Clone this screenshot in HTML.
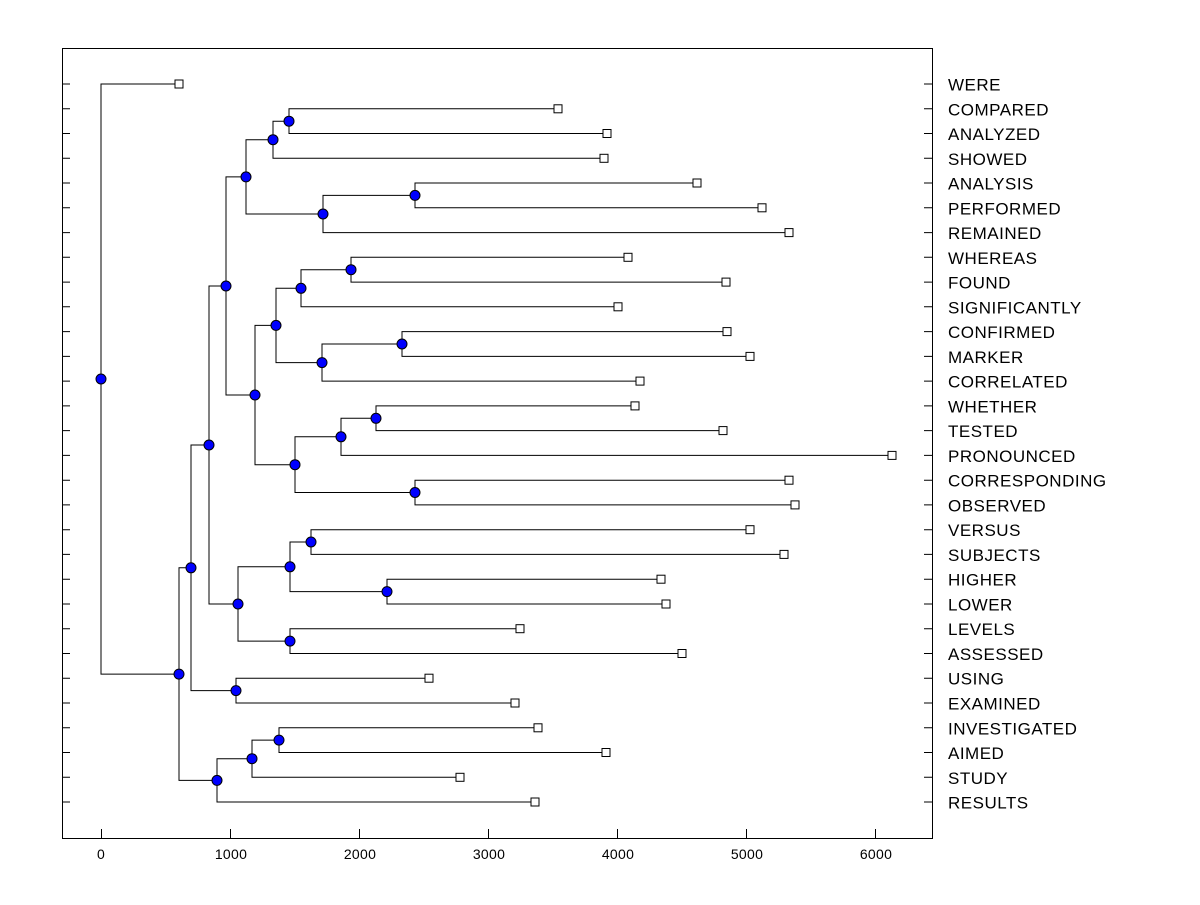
<!DOCTYPE html>
<html><head><meta charset="utf-8"><style>
html,body{margin:0;padding:0;background:#fff;}
svg text{font-family:"Liberation Sans",Arial,sans-serif;}
</style></head><body>
<svg width="1200" height="900" viewBox="0 0 1200 900" xmlns="http://www.w3.org/2000/svg">
<rect x="0" y="0" width="1200" height="900" fill="#fff"/>
<rect x="62.5" y="48.5" width="870" height="790" fill="none" stroke="#000" stroke-width="1"/>
<g stroke="#000" stroke-width="1" fill="none">
<path d="M62 84H70M62 108.8H70M62 133.5H70M62 158.3H70M62 183H70M62 207.8H70M62 232.6H70M62 257.3H70M62 282.1H70M62 306.8H70M62 331.6H70M62 356.4H70M62 381.1H70M62 405.9H70M62 430.6H70M62 455.4H70M62 480.2H70M62 504.9H70M62 529.7H70M62 554.4H70M62 579.2H70M62 604H70M62 628.7H70M62 653.5H70M62 678.2H70M62 703H70M62 727.8H70M62 752.5H70M62 777.3H70M62 802H70"/>
<path d="M924 84H932M924 108.8H932M924 133.5H932M924 158.3H932M924 183H932M924 207.8H932M924 232.6H932M924 257.3H932M924 282.1H932M924 306.8H932M924 331.6H932M924 356.4H932M924 381.1H932M924 405.9H932M924 430.6H932M924 455.4H932M924 480.2H932M924 504.9H932M924 529.7H932M924 554.4H932M924 579.2H932M924 604H932M924 628.7H932M924 653.5H932M924 678.2H932M924 703H932M924 727.8H932M924 752.5H932M924 777.3H932M924 802H932"/>
<path d="M101.5 838V829M230.5 838V829M359.5 838V829M488.5 838V829M617.5 838V829M746.5 838V829M875.5 838V829"/>
<path d="
M558 108.8H289V133.5H607
M289 121.2H273V158.3H604
M697 183H415V207.8H762
M415 195.4H323V232.6H789
M273 139.7H246V214H323
M628 257.3H351V282.1H726
M351 269.7H301V306.8H618
M727 331.6H402V356.4H750
M402 344H322V381.1H640
M301 288.3H276V362.6H322
M635 405.9H376V430.6H723
M376 418.3H341V455.4H892
M789 480.2H415V504.9H795
M341 436.8H295V492.5H415
M276 325.4H255V464.7H295
M246 176.9H226V395H255
M750 529.7H311V554.4H784
M661 579.2H387V604H666
M311 542H290V591.6H387
M520 628.7H290V653.5H682
M290 566.8H238V641.1H290
M226 286H209V604H238
M429 678.2H236V703H515
M209 445H191V690.6H236
M538 727.8H279V752.5H606
M279 740.1H252V777.3H460
M252 758.7H217V802H535
M191 567.8H179V780.4H217
M179 84H101V674.1H179
"/>
</g>
<g fill="#fff" stroke="#000" stroke-width="1">
<rect x="175" y="80" width="8" height="8"/>
<rect x="554" y="104.8" width="8" height="8"/>
<rect x="603" y="129.5" width="8" height="8"/>
<rect x="600" y="154.3" width="8" height="8"/>
<rect x="693" y="179" width="8" height="8"/>
<rect x="758" y="203.8" width="8" height="8"/>
<rect x="785" y="228.6" width="8" height="8"/>
<rect x="624" y="253.3" width="8" height="8"/>
<rect x="722" y="278.1" width="8" height="8"/>
<rect x="614" y="302.8" width="8" height="8"/>
<rect x="723" y="327.6" width="8" height="8"/>
<rect x="746" y="352.4" width="8" height="8"/>
<rect x="636" y="377.1" width="8" height="8"/>
<rect x="631" y="401.9" width="8" height="8"/>
<rect x="719" y="426.6" width="8" height="8"/>
<rect x="888" y="451.4" width="8" height="8"/>
<rect x="785" y="476.2" width="8" height="8"/>
<rect x="791" y="500.9" width="8" height="8"/>
<rect x="746" y="525.7" width="8" height="8"/>
<rect x="780" y="550.4" width="8" height="8"/>
<rect x="657" y="575.2" width="8" height="8"/>
<rect x="662" y="600" width="8" height="8"/>
<rect x="516" y="624.7" width="8" height="8"/>
<rect x="678" y="649.5" width="8" height="8"/>
<rect x="425" y="674.2" width="8" height="8"/>
<rect x="511" y="699" width="8" height="8"/>
<rect x="534" y="723.8" width="8" height="8"/>
<rect x="602" y="748.5" width="8" height="8"/>
<rect x="456" y="773.3" width="8" height="8"/>
<rect x="531" y="798" width="8" height="8"/>
</g>
<g fill="#0000ff" stroke="#000" stroke-width="1">
<circle cx="289" cy="121.2" r="5"/>
<circle cx="273" cy="139.7" r="5"/>
<circle cx="415" cy="195.4" r="5"/>
<circle cx="323" cy="214" r="5"/>
<circle cx="246" cy="176.9" r="5"/>
<circle cx="351" cy="269.7" r="5"/>
<circle cx="301" cy="288.3" r="5"/>
<circle cx="402" cy="344" r="5"/>
<circle cx="322" cy="362.6" r="5"/>
<circle cx="276" cy="325.4" r="5"/>
<circle cx="376" cy="418.3" r="5"/>
<circle cx="341" cy="436.8" r="5"/>
<circle cx="415" cy="492.5" r="5"/>
<circle cx="295" cy="464.7" r="5"/>
<circle cx="255" cy="395" r="5"/>
<circle cx="226" cy="286" r="5"/>
<circle cx="311" cy="542" r="5"/>
<circle cx="387" cy="591.6" r="5"/>
<circle cx="290" cy="566.8" r="5"/>
<circle cx="290" cy="641.1" r="5"/>
<circle cx="238" cy="604" r="5"/>
<circle cx="209" cy="445" r="5"/>
<circle cx="236" cy="690.6" r="5"/>
<circle cx="191" cy="567.8" r="5"/>
<circle cx="279" cy="740.1" r="5"/>
<circle cx="252" cy="758.7" r="5"/>
<circle cx="217" cy="780.4" r="5"/>
<circle cx="179" cy="674.1" r="5"/>
<circle cx="101" cy="379" r="5"/>
</g>
<g font-size="17" letter-spacing="0.5" fill="#000" dominant-baseline="central" transform="translate(0,1)">
<text x="948" y="84">WERE</text>
<text x="948" y="108.8">COMPARED</text>
<text x="948" y="133.5">ANALYZED</text>
<text x="948" y="158.3">SHOWED</text>
<text x="948" y="183">ANALYSIS</text>
<text x="948" y="207.8">PERFORMED</text>
<text x="948" y="232.6">REMAINED</text>
<text x="948" y="257.3">WHEREAS</text>
<text x="948" y="282.1">FOUND</text>
<text x="948" y="306.8">SIGNIFICANTLY</text>
<text x="948" y="331.6">CONFIRMED</text>
<text x="948" y="356.4">MARKER</text>
<text x="948" y="381.1">CORRELATED</text>
<text x="948" y="405.9">WHETHER</text>
<text x="948" y="430.6">TESTED</text>
<text x="948" y="455.4">PRONOUNCED</text>
<text x="948" y="480.2">CORRESPONDING</text>
<text x="948" y="504.9">OBSERVED</text>
<text x="948" y="529.7">VERSUS</text>
<text x="948" y="554.4">SUBJECTS</text>
<text x="948" y="579.2">HIGHER</text>
<text x="948" y="604">LOWER</text>
<text x="948" y="628.7">LEVELS</text>
<text x="948" y="653.5">ASSESSED</text>
<text x="948" y="678.2">USING</text>
<text x="948" y="703">EXAMINED</text>
<text x="948" y="727.8">INVESTIGATED</text>
<text x="948" y="752.5">AIMED</text>
<text x="948" y="777.3">STUDY</text>
<text x="948" y="802">RESULTS</text>
</g>
<g font-size="14" letter-spacing="0.3" fill="#000" text-anchor="middle">
<text x="101" y="859">0</text>
<text x="231" y="859">1000</text>
<text x="360" y="859">2000</text>
<text x="489" y="859">3000</text>
<text x="618" y="859">4000</text>
<text x="747" y="859">5000</text>
<text x="876" y="859">6000</text>
</g>
</svg>
</body></html>
